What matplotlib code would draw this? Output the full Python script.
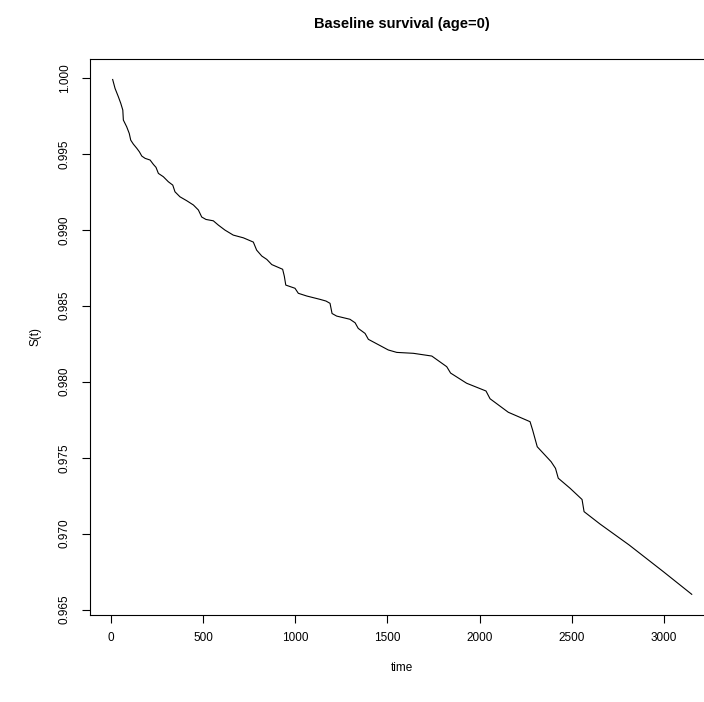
import numpy as np
import matplotlib
matplotlib.use("Agg")
import matplotlib.pyplot as plt
from matplotlib.ticker import FormatStrFormatter

# baseline survival curve S(t) at age = 0
time = [10, 23, 41, 54, 65, 68, 86, 100, 108, 122, 141, 155, 168, 186, 213,
        231, 245, 258, 285, 312, 336, 348, 375, 412, 448, 475, 493, 516, 556,
        583, 619, 664, 719, 773, 791, 819, 846, 873, 932, 941, 949, 999, 1017,
        1063, 1135, 1167, 1189, 1200, 1225, 1297, 1325, 1342, 1379, 1397, 1505,
        1551, 1641, 1741, 1822, 1843, 1930, 2035, 2057, 2156, 2274, 2288, 2313,
        2388, 2412, 2427, 2491, 2556, 2567, 2653, 2811, 2997, 3151]
surv = [0.99989, 0.99930, 0.99875, 0.99832, 0.99788, 0.99722, 0.99678, 0.99634,
        0.99590, 0.99564, 0.99536, 0.99513, 0.99485, 0.99470, 0.99459, 0.99430,
        0.99411, 0.99371, 0.99349, 0.99316, 0.99294, 0.99250, 0.99217, 0.99191,
        0.99163, 0.99130, 0.99084, 0.99068, 0.99059, 0.99031, 0.98998, 0.98965,
        0.98947, 0.98919, 0.98866, 0.98827, 0.98805, 0.98771, 0.98740, 0.98695,
        0.98636, 0.98615, 0.98582, 0.98564, 0.98542, 0.98531, 0.98516, 0.98449,
        0.98432, 0.98411, 0.98388, 0.98351, 0.98318, 0.98279, 0.98209, 0.98193,
        0.98187, 0.98169, 0.98099, 0.98057, 0.97990, 0.97939, 0.97888, 0.97799,
        0.97737, 0.97682, 0.97572, 0.97474, 0.97430, 0.97365, 0.97299, 0.97225,
        0.97145, 0.97064, 0.96926, 0.96750, 0.96601]

xticks = [0, 500, 1000, 1500, 2000, 2500, 3000]
yticks = [0.965, 0.970, 0.975, 0.980, 0.985, 0.990, 0.995, 1.000]

plt.rcParams['font.family'] = ['Liberation Sans', 'DejaVu Sans']

fig = plt.figure(figsize=(7.04, 7.02), dpi=100)
# plot region runs past the right edge of the image
ax = fig.add_axes([89.5 / 704, 1 - 614.9 / 702, 625.4 / 704, 556 / 702])

ax.plot(time, surv, color='black', linewidth=0.8)

# R style 4% padding around the data range
xr = max(time) - min(time)
yr = max(surv) - min(surv)
ax.set_xlim(min(time) - 0.04 * xr, max(time) + 0.04 * xr)
ax.set_ylim(min(surv) - 0.04 * yr, max(surv) + 0.04 * yr)

ax.set_xticks(xticks)
ax.set_yticks(yticks)
ax.yaxis.set_major_formatter(FormatStrFormatter('%.3f'))
ax.tick_params(direction='out', length=5.5, width=0.8, labelsize=8.5,
               colors='black')
ax.tick_params(axis='x', pad=7)
ax.tick_params(axis='y', pad=8)
for lab in ax.get_yticklabels():
    lab.set_rotation(90)
    lab.set_va('center')

for sp in ax.spines.values():
    sp.set_linewidth(0.8)

ax.set_xlabel('time', fontsize=8.5, labelpad=13)
ax.set_ylabel('S(t)', fontsize=8.5, labelpad=12.5)
fig.suptitle('Baseline survival (age=0)', x=402 / 704, y=1 - 24 / 702,
             va='center', fontsize=10.5, fontweight='bold')

fig.savefig('out.png', dpi=100)
